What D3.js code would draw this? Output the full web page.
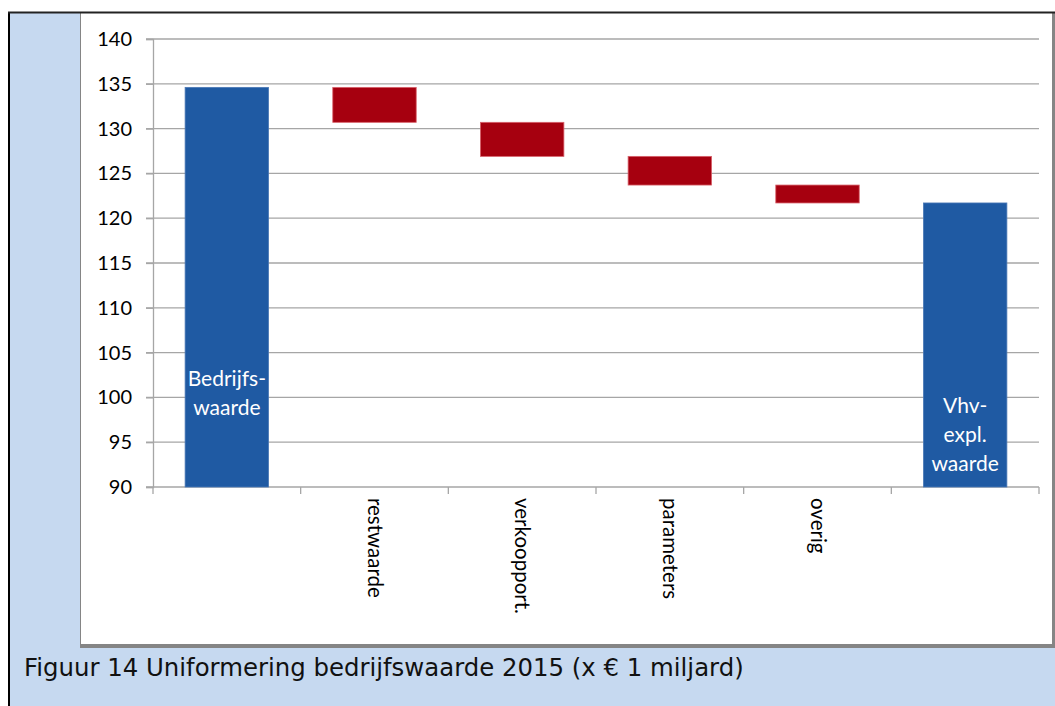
<!DOCTYPE html>
<html>
<head>
<meta charset="utf-8">
<script src="https://cdn.jsdelivr.net/npm/d3@7"></script>
<style>
  body { margin: 0; background: #fff; }
  svg { display: block; }
</style>
</head>
<body>
<div id="container"></div>
<script>
/* DATA */
const categories = ["Bedrijfswaarde", "restwaarde", "verkoopport.", "parameters", "overig", "Vhv-expl. waarde"]
const startValue = 134.6
const changes = [-3.9, -3.8, -3.2, -2.0]
const yTicks = [90, 95, 100, 105, 110, 115, 120, 125, 130, 135, 140]
const barInnerLabels = [["Bedrijfs-", "waarde"], null, null, null, null, ["Vhv-", "expl.", "waarde"]]
const caption = "Figuur 14 Uniformering bedrijfswaarde 2015 (x € 1 miljard)"

/* CONSTANTS */
const width = 1055, height = 706
const plotLeft = 153, plotRight = 1039, plotTop = 39, plotBottom = 487

// build waterfall rows from the data
let running = startValue
const rows = [{ key: categories[0], lo: 90, hi: startValue, total: true }]
changes.forEach((c, i) => {
  const next = running + c
  rows.push({ key: categories[i + 1], lo: Math.min(running, next), hi: Math.max(running, next), total: false })
  running = next
})
rows.push({ key: categories[5], lo: 90, hi: running, total: true })

const svg = d3.select("#container")
  .append("svg")
  .attr("width", width)
  .attr("height", height)

// outer frame + light blue background
svg.append("rect")
  .attr("x", 9).attr("y", 12)
  .attr("width", width - 9).attr("height", height - 12)
  .attr("fill", "#c6d9f0")
svg.append("line")
  .attr("x1", 9).attr("x2", 9).attr("y1", 12).attr("y2", height)
  .attr("stroke", "#000").attr("stroke-width", 2)

// chart panel (white, gray shadow right + bottom)
svg.append("rect")
  .attr("x", 80).attr("y", 13)
  .attr("width", 975).attr("height", 635)
  .attr("fill", "#858585")
svg.append("rect")
  .attr("x", 81).attr("y", 13)
  .attr("width", 971).attr("height", 631)
  .attr("fill", "#fff")
svg.append("line")
  .attr("x1", 8).attr("x2", width).attr("y1", 12.5).attr("y2", 12.5)
  .attr("stroke", "#222").attr("stroke-width", 2)

/* SCALES */
const y = d3.scaleLinear().domain([90, 140]).range([plotBottom, plotTop])
const x = d3.scaleBand().domain(categories).range([plotLeft, plotRight]).paddingInner(0.435).paddingOuter(0.2175)
const xTicks = d3.scaleBand().domain(categories).range([plotLeft, plotRight])

// gridlines
svg.append("g")
  .selectAll("line")
  .data(yTicks)
  .join("line")
  .attr("x1", plotLeft - 7)
  .attr("x2", plotRight)
  .attr("y1", d => y(d))
  .attr("y2", d => y(d))
  .attr("stroke", "#a6a6a6")
  .attr("stroke-width", 1.3)

// y axis
const yAxis = svg.append("g")
  .attr("transform", `translate(${plotLeft},0)`)
  .call(d3.axisLeft(y).tickValues(yTicks).tickSize(7).tickPadding(14))
yAxis.select(".domain").attr("stroke", "#a6a6a6").attr("stroke-width", 1.3)
yAxis.selectAll(".tick line").attr("stroke", "#a6a6a6").attr("stroke-width", 1.3)
yAxis.selectAll("text")
  .attr("font-family", "Lato, 'Open Sans', sans-serif")
  .attr("font-size", 20)
  .attr("fill", "#000")

// x axis ticks at band edges
const edges = categories.map(c => xTicks(c)).concat([plotRight])
svg.append("g")
  .selectAll("line")
  .data(edges)
  .join("line")
  .attr("x1", d => d).attr("x2", d => d)
  .attr("y1", plotBottom).attr("y2", plotBottom + 7)
  .attr("stroke", "#a6a6a6").attr("stroke-width", 1.3)

// bars
svg.append("g")
  .selectAll("rect")
  .data(rows)
  .join("rect")
  .attr("x", d => x(d.key))
  .attr("width", x.bandwidth())
  .attr("y", d => y(d.hi))
  .attr("height", d => y(d.lo) - y(d.hi))
  .attr("fill", d => d.total ? "#1f5aa3" : "#a6000f")
  .attr("stroke", d => d.total ? "#4a78b6" : "#d8606a")
  .attr("stroke-width", 0.8)

// labels inside total bars
rows.forEach((d, i) => {
  const lines = barInnerLabels[i]
  if (!lines) return
  const cx = x(d.key) + x.bandwidth() / 2
  const lastY = i === 0 ? 415 : 471
  svg.append("g")
    .selectAll("text")
    .data(lines)
    .join("text")
    .attr("x", cx)
    .attr("y", (t, j) => lastY - (lines.length - 1 - j) * 29)
    .attr("text-anchor", "middle")
    .attr("font-family", "Lato, 'Open Sans', sans-serif")
    .attr("font-size", 21)
    .attr("fill", "#fff")
    .text(t => t)
})

// rotated category labels for the change bars
svg.append("g")
  .selectAll("text")
  .data(categories.slice(1, 5))
  .join("text")
  .attr("transform", d => `translate(${xTicks(d) + xTicks.bandwidth() / 2 - 7},${plotBottom + 11}) rotate(90)`)
  .attr("font-family", "Lato, 'Open Sans', sans-serif")
  .attr("font-size", 20.5)
  .attr("fill", "#000")
  .text(d => d)

// caption
svg.append("text")
  .attr("x", 24)
  .attr("y", 676)
  .attr("font-family", "'DejaVu Sans', Verdana, sans-serif")
  .attr("font-size", 24.4)
  .attr("fill", "#111")
  .text(caption)
</script>
</body>
</html>
